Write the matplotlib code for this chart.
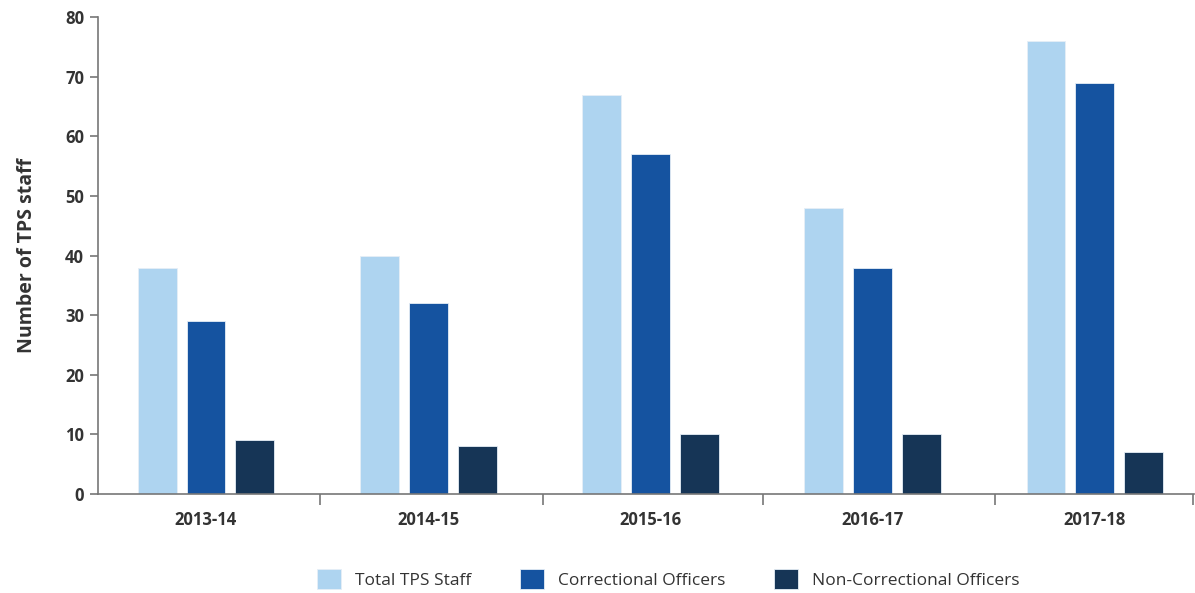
import matplotlib
matplotlib.use("Agg")
import matplotlib.pyplot as plt
import numpy as np

years = ["2013-14", "2014-15", "2015-16", "2016-17", "2017-18"]
total_staff = [38, 40, 67, 48, 76]
correctional = [29, 32, 57, 38, 69]
non_correctional = [9, 8, 10, 10, 7]

series_names = ["Total TPS Staff", "Correctional Officers", "Non-Correctional Officers"]
colors = ["#AED4F0", "#1553A0", "#163556"]

plt.rcParams["font.family"] = ["Open Sans", "DejaVu Sans"]
text_color = "#333333"
axis_color = "#777777"

fig = plt.figure(figsize=(11.95, 5.93), dpi=100)
ax = fig.add_axes([0.082, 0.167, 0.917, 0.804])

x = np.arange(len(years))
width = 0.175
step = 0.22
for i, (vals, name, col) in enumerate(zip([total_staff, correctional, non_correctional], series_names, colors)):
    ax.bar(x + (i - 1) * step, vals, width, color=col, label=name,
           edgecolor="#E6EEF6", linewidth=0.6)

x_lo, x_hi = -0.486, 4.445
ax.set_xlim(x_lo, x_hi)
ax.set_ylim(0, 80)
ax.set_yticks(range(0, 81, 10))

# Category labels centred under each group, separator ticks between groups
ax.set_xticks(x)
ax.set_xticklabels(years, fontsize=12, fontweight="bold", color=text_color)
ax.tick_params(axis="x", which="major", length=0, pad=12)
ax.set_xticks([0.513, 1.516, 2.506, 3.55, x_hi - 0.002], minor=True)
ax.tick_params(axis="x", which="minor", length=8, width=1.2, color=axis_color)

ax.tick_params(axis="y", length=6, width=1.2, color=axis_color, labelsize=12,
               labelcolor=text_color, pad=4)
for lbl in ax.get_yticklabels():
    lbl.set_fontweight("bold")

for side in ["top", "right"]:
    ax.spines[side].set_visible(False)
for side in ["left", "bottom"]:
    ax.spines[side].set_color(axis_color)
    ax.spines[side].set_linewidth(1.2)

ax.set_ylabel("Number of TPS staff", fontsize=14, fontweight="bold", color=text_color, labelpad=20)

fig.legend(loc="center", bbox_to_anchor=(0.559, 0.024), ncol=3, frameon=False,
           fontsize=12.5, handlelength=1.4, handleheight=1.4, handletextpad=0.8,
           columnspacing=2.8, labelcolor=text_color)

fig.savefig("out.png", dpi=100)
